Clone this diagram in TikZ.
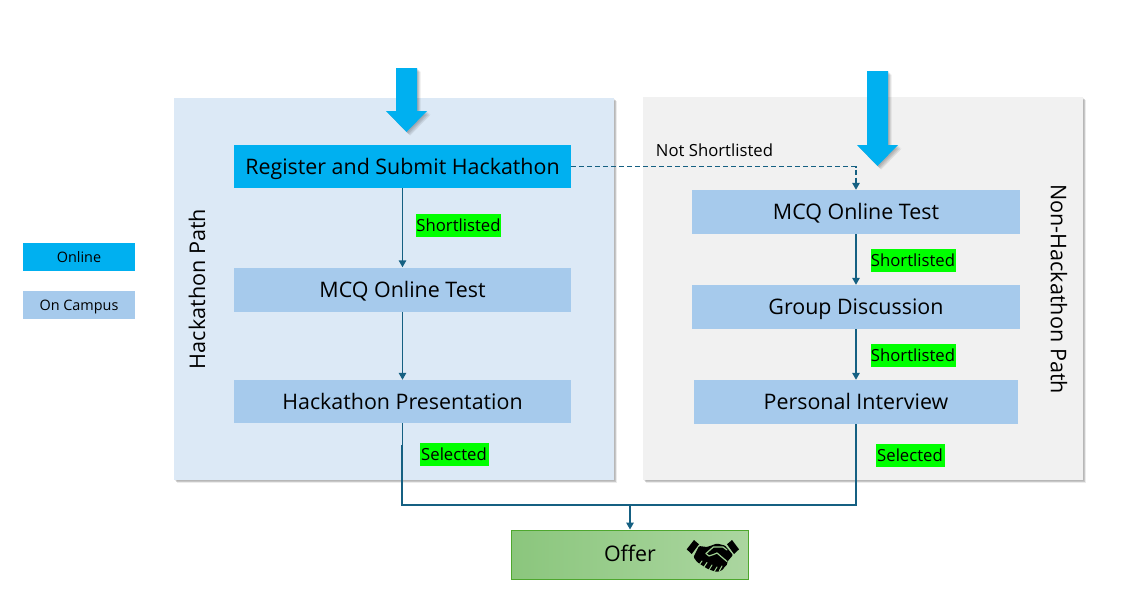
\documentclass[tikz,border=0pt]{standalone}
\usepackage{fontspec}
\setmainfont{Open Sans}
\usetikzlibrary{arrows.meta}
\definecolor{panelblue}{HTML}{DCE9F6}
\definecolor{panelgray}{HTML}{F1F1F1}
\definecolor{onlineblue}{HTML}{00B0F0}
\definecolor{campus}{HTML}{A6CAEC}
\definecolor{wire}{HTML}{156082}
\definecolor{tagGreen}{HTML}{00FF00}
\definecolor{offerL}{RGB}{139,198,125}
\definecolor{offerR}{RGB}{171,214,160}
\definecolor{offerEdge}{RGB}{78,167,46}
\definecolor{iconGap}{RGB}{158,208,145}
\newcommand{\softshadow}[4]{%
 \foreach \k in {1,2,3,4}{\fill[black,opacity=.08] ({#1+\k*.75},{#2+\k*.75}) rectangle ({#3+\k*.75},{#4+\k*.75});}}
\tikzset{
 x=1pt,y=-1pt,
 stepbox/.style={fill=campus,minimum height=44pt,font=\fontsize{21.4}{25}\selectfont,text height=17pt,text depth=2pt,inner sep=0pt,anchor=center},
 tagbox/.style={fill=tagGreen,font=\fontsize{16.7}{19}\selectfont,inner sep=0pt,minimum height=23pt,anchor=center},
 wireline/.style={draw=wire,line width=1.4pt},
 wirearrow/.style={wireline,-{Triangle[length=7pt,width=7.5pt]}},
 sidelabel/.style={font=\fontsize{21.6}{25}\selectfont,inner sep=0pt,anchor=center},
 legendtext/.style={font=\fontsize{14.4}{17}\selectfont,text height=10.5pt,text depth=0pt,inner sep=0pt,anchor=center,minimum height=28pt},
 offerbox/.style={inner sep=0pt,minimum width=237pt,minimum height=49pt,shading=axis,left color=offerL,right color=offerR,shading angle=90,draw=offerEdge,line width=1pt,font=\fontsize{21.4}{25}\selectfont,text=black,text height=15.5pt,text depth=1pt}
}
\begin{document}
\begin{tikzpicture}
\useasboundingbox (0,0) rectangle (1146,600);
\fill[white] (0,0) rectangle (1146,600);
% panels
\softshadow{174}{98}{614}{480}
\softshadow{643}{97}{1083}{480}
\fill[panelblue] (174,98) rectangle (614,480);
\fill[panelgray] (643,97) rectangle (1083,480);
\node[sidelabel,rotate=90] (hp) at (197,289) {Hackathon Path};
\node[sidelabel,rotate=-90] (np) at (1059,289) {Non-Hackathon Path};
% legend
\node[legendtext,fill=onlineblue,minimum width=112pt] (lon) at (79,257) {Online};
\node[legendtext,fill=campus,minimum width=112pt] (loc) at (79,305) {On Campus};
% big arrows
\foreach \cx/\ty/\sy/\by in {406.5/68/111/132,877.5/71/145/166}{
 \foreach \k in {1,2,3,4}{\fill[black,opacity=.08,shift={(\k*.9,\k*.9)}] (\cx-10.5,\ty) -- (\cx+10.5,\ty) -- (\cx+10.5,\sy) -- (\cx+20.5,\sy) -- (\cx,\by) -- (\cx-20.5,\sy) -- (\cx-10.5,\sy) -- cycle;}
 \fill[onlineblue] (\cx-10.5,\ty) -- (\cx+10.5,\ty) -- (\cx+10.5,\sy) -- (\cx+20.5,\sy) -- (\cx,\by) -- (\cx-20.5,\sy) -- (\cx-10.5,\sy) -- cycle;
}
% steps
\node[stepbox,fill=onlineblue,minimum width=337pt,minimum height=43pt] (reg) at (402.5,166.5) {Register and Submit Hackathon};
\node[stepbox,minimum width=337pt] (m1) at (402.5,289.5) {MCQ Online Test};
\node[stepbox,minimum width=337pt,minimum height=43pt] (hpres) at (402.5,401.5) {Hackathon Presentation};
\node[stepbox,minimum width=328pt] (m2) at (856,212) {MCQ Online Test};
\node[stepbox,minimum width=328pt] (gd) at (856,307) {Group Discussion};
\node[stepbox,minimum width=324pt] (pi) at (856,402) {Personal Interview};
\node[offerbox] (offer) at (630,554.5) {Offer};
% connectors
\coordinate (turn) at (856,166.5);
\coordinate (ljoin) at (402,505);
\coordinate (rjoin) at (856,505);
\coordinate (mjoin) at (630,505);
\draw[wirearrow] (reg) -- (m1);
\draw[wirearrow] (m1) -- (hpres);
\draw[wirearrow,dash pattern=on 5pt off 3pt] (reg.east) -- (turn) -- (m2.north);
\draw[wirearrow] (m2) -- (gd);
\draw[wirearrow] (gd) -- (pi);
\draw[wireline] (hpres.south) -- ++(0,22);
\draw[wireline] (ljoin|-hpres.south) ++(0,22) -- (ljoin) -- (rjoin) -- (pi.south);
\draw[wirearrow] (mjoin) -- (offer.north);
% tags
\node[tagbox,minimum width=85pt] (t1) at (458.5,225) {Shortlisted};
\node[tagbox,minimum width=85pt] (t2) at (913,260) {Shortlisted};
\node[tagbox,minimum width=85pt] (t3) at (913,355) {Shortlisted};
\node[tagbox,minimum width=69pt] (t4) at (454,454) {Selected};
\node[tagbox,minimum width=69pt] (t5) at (910,455) {Selected};
\node[font=\fontsize{16.7}{19}\selectfont,inner sep=0pt] (ns) at (714.5,150) {Not Shortlisted};
% handshake icon
\begin{scope}[shift={(680,532)}]
\fill[black] (6.7,17.3) -- (14,8) -- (19,12.3) -- (11.7,22) -- cycle;
\fill[black] (59,17.3) -- (52,8) -- (47,12.3) -- (54,22) -- cycle;
\fill[black,rounded corners=1pt] (19,14) -- (27,15) -- (37,11.5) -- (45,13.5) -- (53,23) -- (47,30) -- (47.5,32) -- (44.5,35) -- (42.5,38) -- (37,40) -- (32,38.5) -- (27,36.5) -- (17,30) -- (13.5,25) -- cycle;
\draw[iconGap,line width=1.2pt,line cap=round,line join=round] (26,21.5) -- (33.3,15) -- (43,15) -- (47,18);
\draw[iconGap,line width=1.2pt,line cap=round,line join=round] (26,21.5) -- (29,24) -- (33.5,22.5) -- (37,21) -- (47,29.5);
\draw[iconGap,line width=1pt,line cap=round] (22,29) -- (19,33) (27,30.5) -- (24,35) (32,33) -- (29,38) (37,35) -- (34,40) (42,34) -- (39.5,38.5);
\end{scope}
\end{tikzpicture}
\end{document}
